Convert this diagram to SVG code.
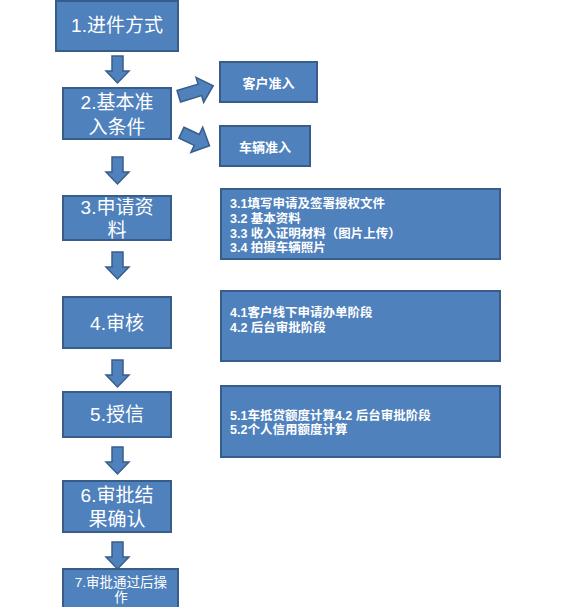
<svg xmlns="http://www.w3.org/2000/svg" width="567" height="607" viewBox="0 0 567 607">
<defs>
<style>
.box{fill:#4F81BD;stroke:#385D8A;stroke-width:2}
.arr{fill:#4F81BD;stroke:#385D8A;stroke-width:1.5;stroke-linejoin:miter}
.main{font-family:"Liberation Sans","Noto Sans CJK SC",sans-serif;fill:#FFFFFF;font-size:19px;text-anchor:middle}
.small{font-size:13.5px}
.side{font-family:"Liberation Sans","Noto Sans CJK SC",sans-serif;fill:#FFFFFF;font-size:13px;font-weight:bold;text-anchor:middle}
.det{font-family:"Liberation Sans","Noto Sans CJK SC",sans-serif;fill:#FFFFFF;font-size:12.5px;font-weight:bold}
</style>
<path id="down" d="M112,0 L123,0 L123,15 L129,15 L117.5,27 L106,15 L112,15 Z"/>
</defs>
<rect x="0" y="0" width="567" height="607" fill="#FFFFFF"/>

<g id="connectors">
<use href="#down" class="arr" transform="translate(0,56)"/>
<use href="#down" class="arr" transform="translate(0,157)"/>
<use href="#down" class="arr" transform="translate(0,252)"/>
<use href="#down" class="arr" transform="translate(0,360)"/>
<use href="#down" class="arr" transform="translate(0,447)"/>
<use href="#down" class="arr" transform="translate(0,542)"/>
<path class="arr" transform="translate(196,91) rotate(-17)" d="M-18,-6 L4,-6 L4,-13 L18,0 L4,13 L4,6 L-18,6 Z"/>
<path class="arr" transform="translate(195,139) rotate(25)" d="M-15,-6 L2,-6 L2,-14 L16,0 L2,14 L2,6 L-15,6 Z"/>
</g>

<g id="n1">
<rect class="box" x="56" y="1" width="122" height="50"/>
<text class="main" x="117" y="32">1.进件方式</text>
</g>
<g id="n2">
<rect class="box" x="63" y="88" width="108" height="51"/>
<text class="main" x="117" y="109">2.基本准</text>
<text class="main" x="117" y="134">入条件</text>
</g>
<g id="n2a">
<rect class="box" x="220" y="62" width="97" height="40"/>
<text class="side" x="268.5" y="87.5">客户准入</text>
</g>
<g id="n2b">
<rect class="box" x="220" y="126" width="90" height="40"/>
<text class="side" x="265" y="151.5">车辆准入</text>
</g>
<g id="n3">
<rect class="box" x="63" y="196" width="108" height="44"/>
<text class="main" x="117" y="214">3.申请资</text>
<text class="main" x="117" y="237">料</text>
</g>
<g id="n3d">
<rect class="box" x="221" y="189" width="279" height="70"/>
<text class="det" x="230" y="208">3.1填写申请及签署授权文件</text>
<text class="det" x="230" y="223">3.2 基本资料</text>
<text class="det" x="230" y="238">3.3 收入证明材料（图片上传）</text>
<text class="det" x="230" y="252">3.4 拍摄车辆照片</text>
</g>
<g id="n4">
<rect class="box" x="63" y="297" width="108" height="51"/>
<text class="main" x="117" y="330">4.审核</text>
</g>
<g id="n4d">
<rect class="box" x="221" y="291" width="279" height="70"/>
<text class="det" x="230" y="317">4.1客户线下申请办单阶段</text>
<text class="det" x="230" y="332">4.2 后台审批阶段</text>
</g>
<g id="n5">
<rect class="box" x="63" y="392" width="108" height="45"/>
<text class="main" x="117" y="421">5.授信</text>
</g>
<g id="n5d">
<rect class="box" x="221" y="386" width="279" height="71"/>
<text class="det" x="230" y="419.5">5.1车抵贷额度计算4.2 后台审批阶段</text>
<text class="det" x="230" y="434">5.2个人信用额度计算</text>
</g>
<g id="n6">
<rect class="box" x="63" y="481" width="108" height="51"/>
<text class="main" x="117" y="502">6.审批结</text>
<text class="main" x="117" y="526">果确认</text>
</g>
<g id="n7">
<rect class="box" x="63" y="569" width="115" height="45"/>
<text class="main small" x="121" y="587">7.审批通过后操</text>
<text class="main small" x="121" y="602">作</text>
</g>
</svg>
